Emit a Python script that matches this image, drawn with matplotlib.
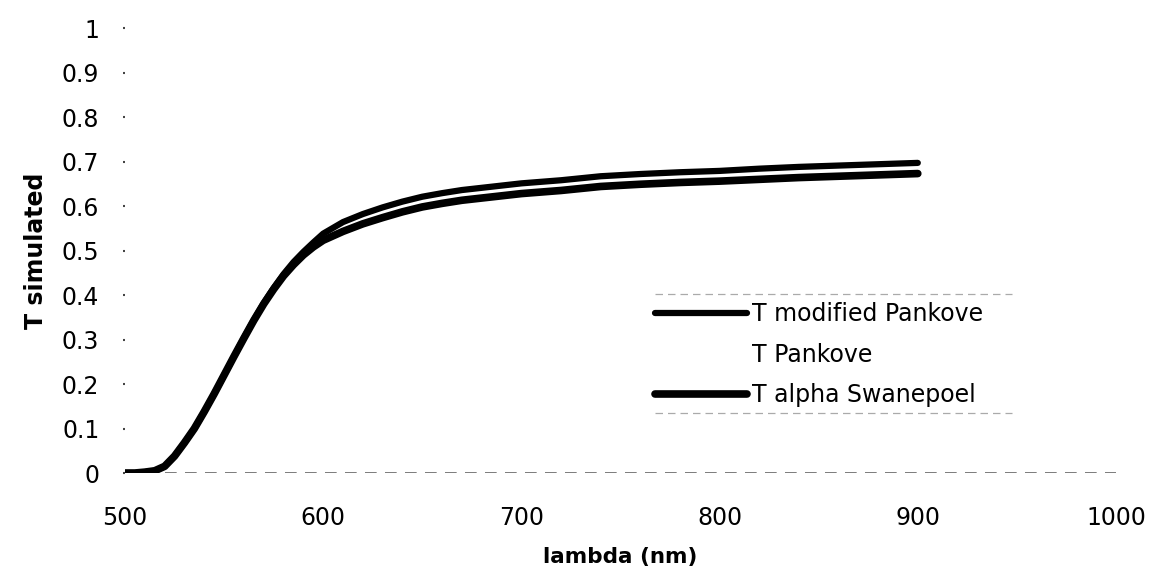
import matplotlib
matplotlib.use("Agg")
import matplotlib.pyplot as plt
from matplotlib.ticker import FuncFormatter

# Wavelength grid (nm)
wavelength = [500, 505, 510, 515, 520, 525, 530, 535, 540, 545, 550, 555, 560,
              565, 570, 575, 580, 585, 590, 595, 600, 610, 620, 630, 640, 650,
              660, 670, 680, 690, 700, 720, 740, 760, 780, 800, 820, 840, 860,
              880, 900]

# Simulated transmittance, alpha from Swanepoel
t_swanepoel = [0.0, 0.0, 0.002, 0.005, 0.015, 0.038, 0.068, 0.100, 0.138, 0.178,
               0.220, 0.262, 0.303, 0.343, 0.380, 0.413, 0.443, 0.468, 0.490,
               0.508, 0.523, 0.543, 0.560, 0.574, 0.587, 0.598, 0.606, 0.613,
               0.618, 0.623, 0.628, 0.635, 0.644, 0.649, 0.653, 0.656, 0.660,
               0.664, 0.667, 0.670, 0.673]

# Simulated transmittance, modified Pankove model
t_mod_pankove = [0.0, 0.0, 0.002, 0.005, 0.015, 0.038, 0.068, 0.100, 0.138, 0.178,
                 0.220, 0.262, 0.304, 0.344, 0.382, 0.416, 0.447, 0.474, 0.497,
                 0.518, 0.538, 0.564, 0.582, 0.597, 0.610, 0.621, 0.629, 0.636,
                 0.641, 0.646, 0.651, 0.658, 0.667, 0.672, 0.676, 0.679, 0.684,
                 0.688, 0.691, 0.694, 0.697]

# Simulated transmittance, Pankove model
t_pankove = [0.0, 0.0, 0.002, 0.005, 0.015, 0.038, 0.068, 0.100, 0.138, 0.178,
             0.220, 0.262, 0.303, 0.343, 0.381, 0.414, 0.445, 0.471, 0.493,
             0.513, 0.530, 0.553, 0.571, 0.585, 0.598, 0.609, 0.617, 0.624,
             0.629, 0.634, 0.639, 0.646, 0.655, 0.660, 0.664, 0.667, 0.672,
             0.676, 0.679, 0.682, 0.685]

x_ticks = [500, 600, 700, 800, 900, 1000]
y_ticks = [0, 0.1, 0.2, 0.3, 0.4, 0.5, 0.6, 0.7, 0.8, 0.9, 1]

plt.rcParams['font.family'] = ['DejaVu Sans']

fig = plt.figure(figsize=(11.53, 5.73), dpi=100)
ax = fig.add_axes([0.1084, 0.1745, 0.8595, 0.7765])

ax.axhline(0, color='#666666', lw=1.2, ls=(0, (7, 5)), zorder=1)

ax.plot(wavelength, t_pankove, color='white', lw=1.5, label='T Pankove', zorder=2)
ax.plot(wavelength, t_mod_pankove, color='black', lw=4.5,
        solid_capstyle='round', label='T modified Pankove', zorder=3)
ax.plot(wavelength, t_swanepoel, color='black', lw=5.5,
        solid_capstyle='round', label='T alpha Swanepoel', zorder=3)

ax.set_xlim(500, 1000)
ax.set_ylim(0, 1)
ax.set_xticks(x_ticks)
ax.set_yticks(y_ticks)
ax.yaxis.set_major_formatter(FuncFormatter(lambda v, p: f"{v:g}"))

for s in ax.spines.values():
    s.set_visible(False)

ax.tick_params(axis='y', length=1.5, width=1.5, color='#444444', pad=17,
               labelsize=17)
ax.tick_params(axis='x', length=0, pad=24, labelsize=17)

ax.set_xlabel('lambda (nm)', fontsize=15.5, fontweight='bold', labelpad=12)
ax.set_ylabel('T simulated', fontsize=17, fontweight='bold', labelpad=10)

handles, labels = ax.get_legend_handles_labels()
order = [1, 0, 2]
leg = ax.legend([handles[i] for i in order], [labels[i] for i in order],
                loc='upper left', bbox_to_anchor=(0.525, 0.405),
                borderaxespad=0, fontsize=17, handlelength=3.9,
                handletextpad=0.2, labelspacing=0.7, frameon=False,
                borderpad=0.4)

# dashed rules above and below the legend
for y in (0.402, 0.135):
    ax.plot([0.535, 0.895], [y, y], transform=ax.transAxes, color='#aaaaaa',
            lw=0.9, ls=(0, (6, 4)), clip_on=False)

fig.savefig('out.png', dpi=100, facecolor='white')
